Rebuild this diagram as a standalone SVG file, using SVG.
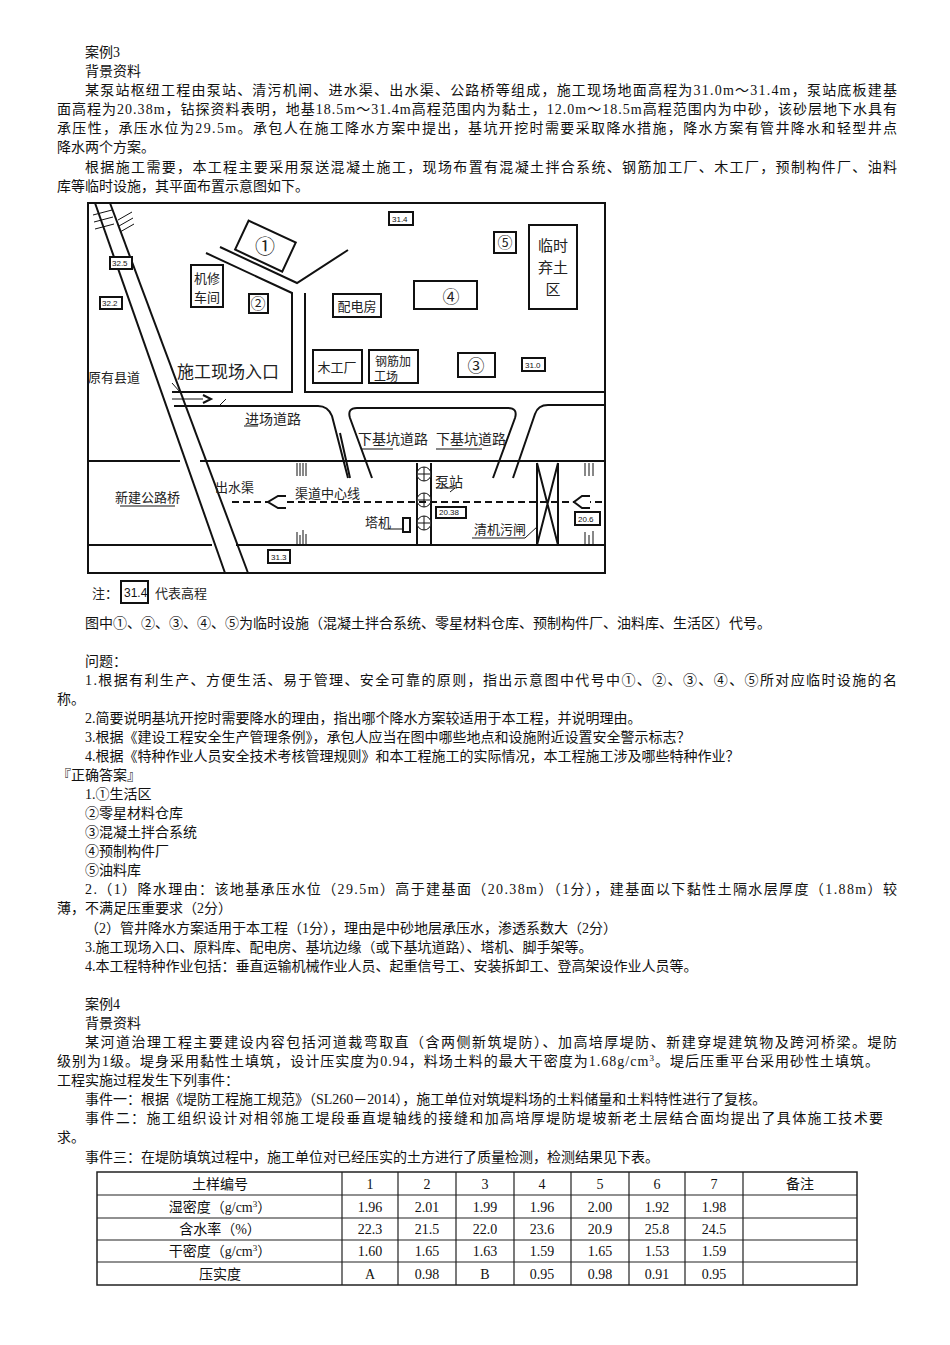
<svg xmlns="http://www.w3.org/2000/svg" width="950" height="1345" viewBox="0 0 950 1345">
<style>
.t{font-family:"Liberation Serif","Noto Sans CJK SC",serif;font-size:14px;fill:#111}
.f{font-family:"Noto Sans CJK SC",sans-serif;fill:#222}
.l{stroke:#111;stroke-width:2;fill:none}
.b{stroke:#111;stroke-width:2;fill:#fff}
.s{stroke:#111;stroke-width:1;fill:none}
.c{font-family:"Liberation Serif","Noto Sans CJK SC",serif;font-size:14px;fill:#111;text-anchor:middle}
</style>
<rect width="950" height="1345" fill="#fff"/>
<g id="text1">
<text class="t" x="85" y="57">案例3</text>
<text class="t" x="85" y="76">背景资料</text>
<text class="t" x="85" y="95" textLength="812">某泵站枢纽工程由泵站、清污机闸、进水渠、出水渠、公路桥等组成，施工现场地面高程为31.0m～31.4m，泵站底板建基</text>
<text class="t" x="57" y="114" textLength="840">面高程为20.38m，钻探资料表明，地基18.5m～31.4m高程范围内为黏土，12.0m～18.5m高程范围内为中砂，该砂层地下水具有</text>
<text class="t" x="57" y="133" textLength="840">承压性，承压水位为29.5m。承包人在施工降水方案中提出，基坑开挖时需要采取降水措施，降水方案有管井降水和轻型井点</text>
<text class="t" x="57" y="152">降水两个方案。</text>
<text class="t" x="85" y="172" textLength="812">根据施工需要，本工程主要采用泵送混凝土施工，现场布置有混凝土拌合系统、钢筋加工厂、木工厂，预制构件厂、油料</text>
<text class="t" x="57" y="191">库等临时设施，其平面布置示意图如下。</text>
</g>
<g id="plan">
<rect x="88" y="203" width="517" height="370" class="l"/>
<line x1="95" y1="203" x2="225" y2="573" class="l"/>
<line x1="110" y1="203" x2="248" y2="573" class="l"/>
<path d="M93 215 L112 210 M94 222 L113 217 M95 229 L114 224 M118 220 L132 212 M119 226 L133 218 M120 232 L134 224" class="s"/>
<line x1="88" y1="461" x2="180" y2="461" class="l"/>
<line x1="200" y1="461" x2="605" y2="461" class="l"/>
<line x1="88" y1="545" x2="212" y2="545" class="l"/>
<line x1="236" y1="545" x2="605" y2="545" class="l"/>
<path d="M172 392 L292 392 L292 293 L206 253 M220 247 L297 283 L348 250 M305 293 L305 392 L605 392" class="l"/>
<path d="M174 406 L318 406 Q328 406 332 416 L348 478" class="l"/>
<path d="M340 433 L350 478 M372 478 L350 418 Q347 408 357 408 L508 408 Q518 408 515 418 L493 478 M513 478 L535 414 Q538 405 548 405 L605 405" class="l"/>
<line x1="417" y1="463" x2="417" y2="545" class="l"/>
<line x1="431" y1="463" x2="431" y2="545" class="l"/>
<g class="s" stroke-width="1.5"><circle cx="424" cy="474" r="7" fill="#fff"/><path d="M417 474 H431 M424 467 V481"/><circle cx="424" cy="500" r="7" fill="#fff"/><path d="M417 500 H431 M424 493 V507"/><circle cx="424" cy="523" r="7" fill="#fff"/><path d="M417 523 H431 M424 516 V530"/></g>
<path d="M537 463 V545 M558 463 V545 M537 463 L558 545 M558 463 L537 545" class="l"/>
<line x1="232" y1="502" x2="605" y2="502" stroke="#111" stroke-width="2" stroke-dasharray="7,4"/>
<path d="M286 496 L278 496 L268 502 L278 508 L286 508" class="b" stroke-width="1.5"/>
<path d="M590 496 L582 496 L574 502 L582 508 L590 508" class="b" stroke-width="1.5"/>
<path d="M297 476 V463 M300 476 V463 M303 476 V463 M306 476 V463 M297 545 V532 M300 545 V535 M303 545 V530 M306 545 V534 M585 476 V463 M589 476 V463 M593 476 V463 M585 545 V532 M589 545 V535 M593 545 V531" class="s" stroke-width="1.5"/>
<rect x="403" y="518" width="7" height="14" class="b" stroke-width="1.5"/>
<path d="M384 529 L403 529 M472 538 L525 538 L538 526 M436 488 L455 488 L450 492 M362 449 L393 449 M436 449 L482 449 M258 426 L244 426 M226 399 L220 405 M172 383 L180 392 M120 506 L160 506 L175 506" class="s"/>
<line x1="172" y1="399" x2="210" y2="399" class="s" stroke-width="1.5"/>
<path d="M203 395 L211 399 L203 403" class="b" stroke-width="1.5" fill="#111"/>
<g transform="rotate(25 265 247)"><rect x="239" y="230" width="52" height="32" class="b"/></g>
<text class="f" x="265" y="254" font-size="20" text-anchor="middle">①</text>
<rect x="191" y="265" width="32" height="42" class="b"/>
<text class="f" x="207" y="283" font-size="13" text-anchor="middle">机修</text>
<text class="f" x="207" y="302" font-size="13" text-anchor="middle">车间</text>
<rect x="249" y="294" width="19" height="19" class="b"/>
<text class="f" x="258" y="309" font-size="15" text-anchor="middle">②</text>
<rect x="333" y="294" width="48" height="23" class="b"/>
<text class="f" x="357" y="311" font-size="13" text-anchor="middle">配电房</text>
<rect x="313" y="350" width="49" height="33" class="b"/>
<text class="f" x="337" y="372" font-size="13" text-anchor="middle">木工厂</text>
<rect x="369" y="350" width="49" height="33" class="b"/>
<text class="f" x="393" y="366" font-size="12" text-anchor="middle">钢筋加</text>
<text class="f" x="386" y="381" font-size="12" text-anchor="middle">工场</text>
<rect x="458" y="353" width="37" height="24" class="b"/>
<text class="f" x="476" y="372" font-size="17" text-anchor="middle">③</text>
<rect x="414" y="281" width="63" height="28" class="b"/>
<text class="f" x="451" y="303" font-size="17" text-anchor="middle">④</text>
<rect x="494" y="232" width="22" height="21" class="b"/>
<text class="f" x="505" y="248" font-size="15" text-anchor="middle">⑤</text>
<rect x="529" y="225" width="48" height="84" class="b"/>
<text class="f" x="553" y="251" font-size="15" text-anchor="middle">临时</text>
<text class="f" x="553" y="273" font-size="15" text-anchor="middle">弃土</text>
<text class="f" x="553" y="295" font-size="15" text-anchor="middle">区</text>
<g font-family="Liberation Sans,sans-serif" font-size="8" fill="#111">
<rect x="110" y="257" width="22" height="12" class="b" stroke-width="1.5"/><text x="112" y="266">32.5</text>
<rect x="100" y="297" width="22" height="12" class="b" stroke-width="1.5"/><text x="102" y="306">32.2</text>
<rect x="389" y="212" width="24" height="13" class="b" stroke-width="1.5"/><text x="392" y="222">31.4</text>
<rect x="522" y="358" width="23" height="13" class="b" stroke-width="1.5"/><text x="525" y="368">31.0</text>
<rect x="436" y="507" width="30" height="11" class="b" stroke-width="1"/><text x="439" y="515">20.38</text>
<rect x="575" y="512" width="25" height="13" class="b" stroke-width="1.5"/><text x="578" y="522">20.6</text>
<rect x="268" y="550" width="22" height="13" class="b" stroke-width="1.5"/><text x="271" y="560">31.3</text>
</g>
<text class="f" x="177" y="378" font-size="17">施工现场入口</text>
<text class="f" x="88" y="382" font-size="13">原有县道</text>
<text class="f" x="245" y="424" font-size="14">进场道路</text>
<text class="f" x="215" y="492" font-size="13">出水渠</text>
<text class="f" x="115" y="502" font-size="13">新建公路桥</text>
<text class="f" x="295" y="498" font-size="13">渠道中心线</text>
<text class="f" x="358" y="444" font-size="14">下基坑道路</text>
<text class="f" x="436" y="444" font-size="14">下基坑道路</text>
<text class="f" x="435" y="487" font-size="14">泵站</text>
<text class="f" x="365" y="527" font-size="13">塔机</text>
<text class="f" x="474" y="534" font-size="13">清机污闸</text>
<text class="f" x="92" y="598" font-size="13">注：</text>
<rect x="121" y="581" width="27" height="22" class="b" stroke-width="1.5"/>
<text x="124" y="597" font-family="Liberation Sans,sans-serif" font-size="12" fill="#111">31.4</text>
<text class="f" x="155" y="598" font-size="13">代表高程</text>
</g>
<g id="text2">
<text class="t" x="85" y="628">图中①、②、③、④、⑤为临时设施（混凝土拌合系统、零星材料仓库、预制构件厂、油料库、生活区）代号。</text>
<text class="t" x="85" y="666">问题：</text>
<text class="t" x="85" y="685" textLength="812">1.根据有利生产、方便生活、易于管理、安全可靠的原则，指出示意图中代号中①、②、③、④、⑤所对应临时设施的名</text>
<text class="t" x="57" y="704">称。</text>
<text class="t" x="85" y="723">2.简要说明基坑开挖时需要降水的理由，指出哪个降水方案较适用于本工程，并说明理由。</text>
<text class="t" x="85" y="742">3.根据《建设工程安全生产管理条例》，承包人应当在图中哪些地点和设施附近设置安全警示标志？</text>
<text class="t" x="85" y="761">4.根据《特种作业人员安全技术考核管理规则》和本工程施工的实际情况，本工程施工涉及哪些特种作业？</text>
<text class="t" x="57" y="780">『正确答案』</text>
<text class="t" x="85" y="799">1.①生活区</text>
<text class="t" x="85" y="818">②零星材料仓库</text>
<text class="t" x="85" y="837">③混凝土拌合系统</text>
<text class="t" x="85" y="856">④预制构件厂</text>
<text class="t" x="85" y="875">⑤油料库</text>
<text class="t" x="85" y="894" textLength="812">2.（1）降水理由：该地基承压水位（29.5m）高于建基面（20.38m）（1分），建基面以下黏性土隔水层厚度（1.88m）较</text>
<text class="t" x="57" y="913">薄，不满足压重要求（2分）</text>
<text class="t" x="85" y="933">（2）管井降水方案适用于本工程（1分），理由是中砂地层承压水，渗透系数大（2分）</text>
<text class="t" x="85" y="952">3.施工现场入口、原料库、配电房、基坑边缘（或下基坑道路）、塔机、脚手架等。</text>
<text class="t" x="85" y="971">4.本工程特种作业包括：垂直运输机械作业人员、起重信号工、安装拆卸工、登高架设作业人员等。</text>
<text class="t" x="85" y="1009">案例4</text>
<text class="t" x="85" y="1028">背景资料</text>
<text class="t" x="85" y="1047" textLength="812">某河道治理工程主要建设内容包括河道裁弯取直（含两侧新筑堤防）、加高培厚堤防、新建穿堤建筑物及跨河桥梁。堤防</text>
<text class="t" x="57" y="1066" textLength="822">级别为1级。堤身采用黏性土填筑，设计压实度为0.94，料场土料的最大干密度为1.68g/cm<tspan dy="-5" font-size="9">3</tspan><tspan dy="5">。堤后压重平台采用砂性土填筑。</tspan></text>
<text class="t" x="57" y="1085">工程实施过程发生下列事件：</text>
<text class="t" x="85" y="1104">事件一：根据《堤防工程施工规范》（SL260－2014），施工单位对筑堤料场的土料储量和土料特性进行了复核。</text>
<text class="t" x="85" y="1123" textLength="798">事件二：施工组织设计对相邻施工堤段垂直堤轴线的接缝和加高培厚堤防堤坡新老土层结合面均提出了具体施工技术要</text>
<text class="t" x="57" y="1142">求。</text>
<text class="t" x="85" y="1162">事件三：在堤防填筑过程中，施工单位对已经压实的土方进行了质量检测，检测结果见下表。</text>
</g>
<g id="table">
<rect x="97" y="1172" width="760" height="113" fill="none" stroke="#222" stroke-width="1.5"/>
<path d="M97 1195 H857 M97 1218 H857 M97 1240 H857 M97 1262 H857 M342 1172 V1285 M398 1172 V1285 M456 1172 V1285 M514 1172 V1285 M571 1172 V1285 M629 1172 V1285 M685 1172 V1285 M743 1172 V1285" stroke="#222" stroke-width="1.2" fill="none"/>
<g class="c">
<text x="220" y="1189">土样编号</text><text x="370" y="1189">1</text><text x="427" y="1189">2</text><text x="485" y="1189">3</text><text x="542" y="1189">4</text><text x="600" y="1189">5</text><text x="657" y="1189">6</text><text x="714" y="1189">7</text><text x="800" y="1189">备注</text>
<text x="220" y="1212">湿密度（g/cm<tspan dy="-5" font-size="9">3</tspan><tspan dy="5">）</tspan></text><text x="370" y="1212">1.96</text><text x="427" y="1212">2.01</text><text x="485" y="1212">1.99</text><text x="542" y="1212">1.96</text><text x="600" y="1212">2.00</text><text x="657" y="1212">1.92</text><text x="714" y="1212">1.98</text>
<text x="220" y="1234">含水率（%）</text><text x="370" y="1234">22.3</text><text x="427" y="1234">21.5</text><text x="485" y="1234">22.0</text><text x="542" y="1234">23.6</text><text x="600" y="1234">20.9</text><text x="657" y="1234">25.8</text><text x="714" y="1234">24.5</text>
<text x="220" y="1256">干密度（g/cm<tspan dy="-5" font-size="9">3</tspan><tspan dy="5">）</tspan></text><text x="370" y="1256">1.60</text><text x="427" y="1256">1.65</text><text x="485" y="1256">1.63</text><text x="542" y="1256">1.59</text><text x="600" y="1256">1.65</text><text x="657" y="1256">1.53</text><text x="714" y="1256">1.59</text>
<text x="220" y="1279">压实度</text><text x="370" y="1279">A</text><text x="427" y="1279">0.98</text><text x="485" y="1279">B</text><text x="542" y="1279">0.95</text><text x="600" y="1279">0.98</text><text x="657" y="1279">0.91</text><text x="714" y="1279">0.95</text>
</g>
</g>
</svg>
